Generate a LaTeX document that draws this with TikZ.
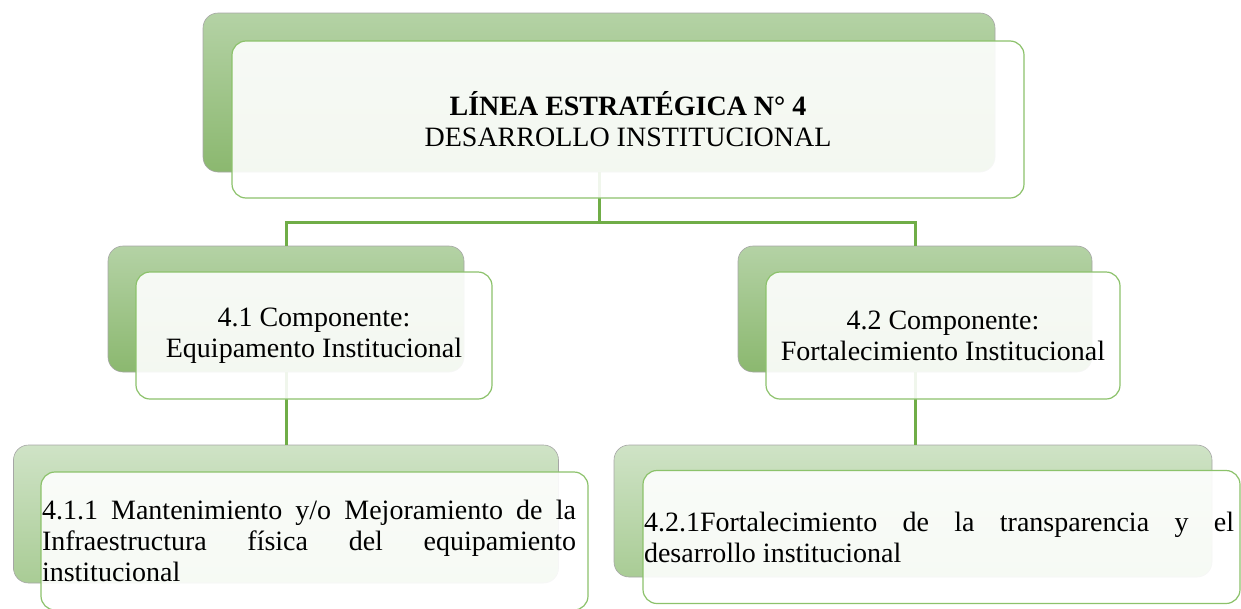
\documentclass[tikz,border=0pt]{standalone}
\usepackage{fontspec}
\setmainfont{Liberation Serif}
\usepackage{xcolor}
\usepackage{tikz}
\usetikzlibrary{arrows.meta}

\definecolor{linkgreen}{HTML}{70AD47}
\definecolor{edgegreen}{HTML}{8CC26B}
\definecolor{darkfill}{HTML}{8BB86F}
\definecolor{midfill}{HTML}{B4D2A5}
\definecolor{palefill}{HTML}{CFE3C6}
\definecolor{paledark}{HTML}{A9CC95}

\begin{document}
\begin{tikzpicture}[
x=1pt, y=-1pt,
backbox/.style={rectangle, rounded corners=15pt, draw=black!35, line width=0.6pt, inner sep=0pt},
topshade/.style={top color=midfill, bottom color=darkfill},
lowshade/.style={top color=palefill, bottom color=paledark},
frontbox/.style={rectangle, rounded corners=14pt, draw=edgegreen, line width=1.2pt, fill=white, fill opacity=0.9, text opacity=1, inner sep=1pt, font=\fontsize{28}{31}\selectfont},
conn/.style={draw=linkgreen, line width=3pt}
]
\useasboundingbox (0,0) rectangle (1241,608);

% back boxes
\node[backbox, topshade, minimum width=792pt, minimum height=159pt] (topback) at (599,92.5) {};
\node[backbox, topshade, minimum width=356pt, minimum height=126pt] (leftback) at (286,309) {};
\node[backbox, topshade, minimum width=354pt, minimum height=126pt] (rightback) at (915,309) {};
\node[backbox, lowshade, minimum width=545pt, minimum height=138pt] (bleftback) at (286,514) {};
\node[backbox, lowshade, minimum width=598pt, minimum height=132pt] (brightback) at (913,511) {};

% connectors, under the front boxes
\coordinate (split) at (599,222);
\draw[conn] (topback.south) -- (split);
\draw[conn] (split) -| (leftback.north);
\draw[conn] (split) -| (rightback.north);
\draw[conn] (leftback.south) -- (bleftback.north);
\draw[conn] (rightback.south) -- (rightback.south |- brightback.north);

% front boxes with the texts
\node[frontbox, minimum width=792pt, minimum height=157pt, align=center] (topfront) at (628,119.5)
  {\textbf{LÍNEA ESTRATÉGICA N° 4}\\DESARROLLO INSTITUCIONAL};
\node[frontbox, minimum width=356pt, minimum height=127pt, align=center] (leftfront) at (314,335.5)
  {4.1 Componente:\\Equipamento Institucional};
\node[frontbox, minimum width=354pt, minimum height=127pt, align=center] (rightfront) at (943,335.5)
  {4.2 Componente:\\Fortalecimiento Institucional};
\node[frontbox, minimum width=547pt, minimum height=138pt] (bleftfront) at (314.5,541)
  {\parbox{534pt}{\hyphenpenalty=10000
   4.1.1 Mantenimiento y/o Mejoramiento de la\linebreak
   Infraestructura física del equipamiento\linebreak
   institucional}\kern11pt};
\node[frontbox, minimum width=597pt, minimum height=133pt] (brightfront) at (941.5,537)
  {\parbox{590pt}{\hyphenpenalty=10000
   4.2.1Fortalecimiento de la transparencia y el\linebreak
   desarrollo institucional}\kern5pt};

\end{tikzpicture}
\end{document}
